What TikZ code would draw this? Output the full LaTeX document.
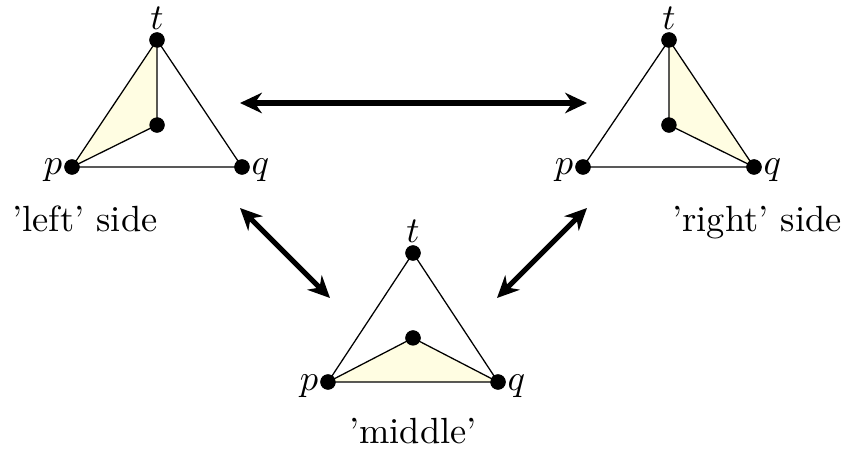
\documentclass[tikz,border=0pt]{standalone}
\usetikzlibrary{arrows.meta}
\definecolor{fillc}{RGB}{255,253,226}
\begin{document}
\begin{tikzpicture}[x=0.2747pt,y=-0.2747pt,
  dot/.style={circle,fill=black,inner sep=0pt,minimum size=4.2pt},
  edge/.style={line width=0.35pt},
  arr/.style={line width=1.4pt,{Stealth[length=6pt,width=5.6pt]}-{Stealth[length=6pt,width=5.6pt]}},
  lab/.style={anchor=base,inner sep=0pt}]
\useasboundingbox (0,0) rectangle (846,452);
% left triangle
\node[dot] (Lt) at (157,40) {};
\node[dot] (Lp) at (72,167) {};
\node[dot] (Lq) at (242,167) {};
\node[dot] (Lc) at (157,125) {};
\fill[fillc] (Lp.center) -- (Lt.center) -- (Lc.center) -- cycle;
\draw[edge] (Lp.center) -- (Lt.center) -- (Lq.center) -- cycle;
\draw[edge] (Lt.center) -- (Lc.center) -- (Lp.center);
\node[dot] at (Lt) {};\node[dot] at (Lp) {};\node[dot] at (Lq) {};\node[dot] at (Lc) {};
\node[lab] (Ltl) at (157,30) {$t$};
\node[lab,anchor=base east] (Lpl) at (63,175) {$p$};
\node[lab,anchor=base west] (Lql) at (251,175) {$q$};
\node[lab] (Lname) at (85,232) {'left' side};
% right triangle
\node[dot] (Rt) at (669,40) {};
\node[dot] (Rp) at (583,167) {};
\node[dot] (Rq) at (754,167) {};
\node[dot] (Rc) at (669,125) {};
\fill[fillc] (Rq.center) -- (Rt.center) -- (Rc.center) -- cycle;
\draw[edge] (Rp.center) -- (Rt.center) -- (Rq.center) -- cycle;
\draw[edge] (Rt.center) -- (Rc.center) -- (Rq.center);
\node[dot] at (Rt) {};\node[dot] at (Rp) {};\node[dot] at (Rq) {};\node[dot] at (Rc) {};
\node[lab] (Rtl) at (669,30) {$t$};
\node[lab,anchor=base east] (Rpl) at (574,175) {$p$};
\node[lab,anchor=base west] (Rql) at (763,175) {$q$};
\node[lab] (Rname) at (757,232) {'right' side};
% middle triangle
\node[dot] (Mt) at (413,253) {};
\node[dot] (Mp) at (328,382) {};
\node[dot] (Mq) at (498,382) {};
\node[dot] (Mc) at (413,338) {};
\fill[fillc] (Mp.center) -- (Mc.center) -- (Mq.center) -- cycle;
\draw[edge] (Mp.center) -- (Mt.center) -- (Mq.center) -- cycle;
\draw[edge] (Mp.center) -- (Mc.center) -- (Mq.center);
\node[dot] at (Mt) {};\node[dot] at (Mp) {};\node[dot] at (Mq) {};\node[dot] at (Mc) {};
\node[lab] (Mtl) at (413,243) {$t$};
\node[lab,anchor=base east] (Mpl) at (319,390) {$p$};
\node[lab,anchor=base west] (Mql) at (507,390) {$q$};
\node[lab] (Mname) at (413,443) {'middle'};
% arrows
\coordinate (h1) at (240,103);
\coordinate (h2) at (587,103);
\coordinate (l1) at (240,208);
\coordinate (l2) at (330,298);
\coordinate (r1) at (587,208);
\coordinate (r2) at (497,298);
\draw[arr] (h1) -- (h2);
\draw[arr] (l1) -- (l2);
\draw[arr] (r1) -- (r2);
\end{tikzpicture}
\end{document}
